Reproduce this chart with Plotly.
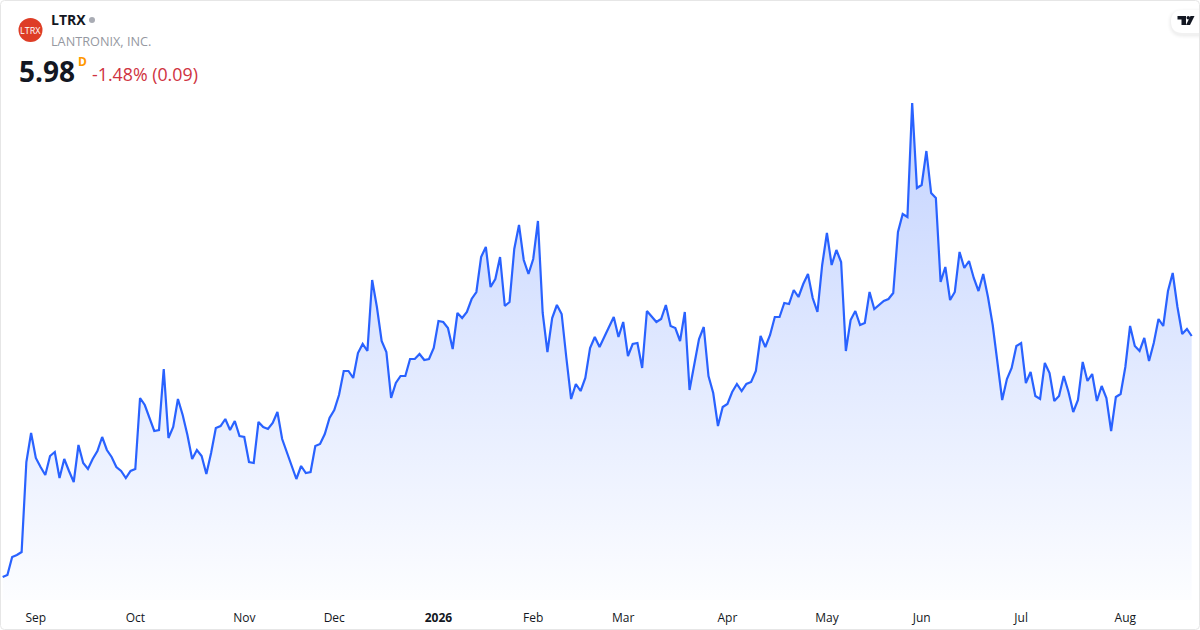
import plotly.graph_objects as go

W = 1200
H = 630
PLOT_H = 600

# no y axis in the picture: prices are scaled from the line, anchored on the last close 5.98
prices = [
    3.57, 3.59, 3.77, 3.79, 3.82, 4.72, 5.01, 4.76, 4.67, 4.59, 4.78, 4.82, 4.56, 4.75, 4.63, 4.52,
    4.89, 4.71, 4.65, 4.75, 4.83, 4.97, 4.84, 4.77, 4.67, 4.63, 4.56, 4.63, 4.65, 5.36, 5.29, 5.17,
    5.03, 5.04, 5.65, 4.96, 5.07, 5.35, 5.19, 4.99, 4.75, 4.84, 4.78, 4.60, 4.81, 5.06, 5.08, 5.15,
    5.04, 5.13, 4.98, 4.97, 4.72, 4.71, 5.12, 5.07, 5.05, 5.11, 5.22, 4.95, 4.82, 4.70, 4.55, 4.68,
    4.61, 4.62, 4.88, 4.90, 5.00, 5.16, 5.24, 5.39, 5.63, 5.63, 5.56, 5.81, 5.90, 5.83, 6.54, 6.27,
    5.93, 5.82, 5.36, 5.51, 5.58, 5.58, 5.75, 5.75, 5.80, 5.74, 5.75, 5.86, 6.13, 6.12, 6.06, 5.85,
    6.21, 6.16, 6.22, 6.35, 6.42, 6.77, 6.87, 6.47, 6.55, 6.77, 6.28, 6.32, 6.85, 7.09, 6.74, 6.60,
    6.75, 7.13, 6.21, 5.82, 6.16, 6.29, 6.20, 5.76, 5.35, 5.50, 5.43, 5.56, 5.86, 5.97, 5.87, 5.97,
    6.07, 6.17, 5.97, 6.12, 5.78, 5.90, 5.91, 5.66, 6.23, 6.18, 6.12, 6.15, 6.29, 6.08, 6.06, 5.93,
    6.22, 5.44, 5.71, 5.95, 6.07, 5.58, 5.41, 5.08, 5.27, 5.30, 5.42, 5.50, 5.43, 5.50, 5.52, 5.63,
    5.98, 5.87, 5.99, 6.17, 6.17, 6.31, 6.30, 6.44, 6.37, 6.50, 6.60, 6.36, 6.22, 6.69, 7.01, 6.69,
    6.84, 6.72, 5.83, 6.14, 6.23, 6.09, 6.11, 6.42, 6.25, 6.29, 6.33, 6.35, 6.41, 7.02, 7.20, 7.17,
    8.31, 7.46, 7.49, 7.83, 7.41, 7.36, 6.52, 6.67, 6.34, 6.42, 6.82, 6.66, 6.73, 6.56, 6.43, 6.60,
    6.37, 6.09, 5.69, 5.34, 5.55, 5.66, 5.88, 5.91, 5.51, 5.62, 5.38, 5.35, 5.71, 5.61, 5.33, 5.38,
    5.58, 5.42, 5.22, 5.34, 5.72, 5.53, 5.60, 5.33, 5.48, 5.36, 5.03, 5.37, 5.40, 5.67, 6.08, 5.88,
    5.83, 5.96, 5.73, 5.91, 6.15, 6.08, 6.43, 6.61, 6.27, 6.00, 6.05, 5.98,
]
# trading-day index of the first session of each month
tick_days = [7, 28, 51, 70, 92, 112, 131, 153, 174, 194, 215, 237]
tick_labels = ["Sep", "Oct", "Nov", "Dec", "<b>2026</b>", "Feb", "Mar", "Apr", "May", "Jun", "Jul", "Aug"]


def px(x):
    return x / W


def py(y):
    return 1 - y / PLOT_H


def path(points):
    # pixel points to a closed svg path in paper coordinates
    parts = []
    for cmd, *xy in points:
        coords = [f"{px(xy[i])},{py(xy[i + 1])}" for i in range(0, len(xy), 2)]
        parts.append(cmd + " " + " ".join(coords))
    return " ".join(parts)


def label(x, y, text, size, color, bold=False, xanchor="left", family="Open Sans"):
    fig.add_annotation(
        xref="paper", yref="paper", x=px(x), y=py(y), text=f"<b>{text}</b>" if bold else text,
        showarrow=False, xanchor=xanchor, yanchor="middle", borderpad=0,
        font=dict(family=family, size=size, color=color),
    )


fig = go.Figure()
fig.add_trace(go.Scatter(
    x=list(range(len(prices))), y=prices, mode="lines",
    line=dict(color="#2962ff", width=2.2),
    fill="tozeroy",
    fillgradient=dict(
        type="vertical", start=3.34, stop=8.31,
        colorscale=[[0, "rgba(41,98,255,0.012)"], [1, "rgba(41,98,255,0.28)"]],
    ),
    hoverinfo="skip",
))

fig.update_layout(
    width=W, height=H, margin=dict(l=0, r=0, t=0, b=H - PLOT_H),
    paper_bgcolor="white", plot_bgcolor="white", showlegend=False,
    xaxis=dict(
        range=[-0.564, 252.76], tickmode="array", tickvals=tick_days, ticktext=tick_labels,
        showgrid=False, zeroline=False, showline=False, ticks="", ticklabelstandoff=9,
        tickangle=0, tickfont=dict(family="Open Sans", size=12, color="#131722"),
    ),
    yaxis=dict(range=[3.34, 9.34], visible=False),
)

# chart frame
fig.add_shape(
    type="path", xref="paper", yref="paper", line=dict(color="#e6e6e6", width=1),
    path=path([
        ("M", 4.5, 0.5), ("L", 1195.5, 0.5), ("Q", 1199.5, 0.5, 1199.5, 4.5),
        ("L", 1199.5, 625.5), ("Q", 1199.5, 629.5, 1195.5, 629.5), ("L", 4.5, 629.5),
        ("Q", 0.5, 629.5, 0.5, 625.5), ("L", 0.5, 4.5), ("Q", 0.5, 0.5, 4.5, 0.5),
    ]) + " Z",
)

# company logo and status dot
fig.add_shape(type="circle", xref="paper", yref="paper", x0=px(18.5), x1=px(42.5), y0=py(42), y1=py(18),
              fillcolor="#de3d26", line=dict(width=0))
fig.add_shape(type="circle", xref="paper", yref="paper", x0=px(89), x1=px(95), y0=py(23), y1=py(17),
              fillcolor="#a9acb4", line=dict(width=0))

# TradingView badge: soft shadow, pill, glyph
for grow, alpha in [(4, 0.008), (3, 0.012), (2, 0.016), (1, 0.02)]:
    fig.add_shape(
        type="path", xref="paper", yref="paper", fillcolor=f"rgba(0,0,0,{alpha})", line=dict(width=0),
        path=path([
            ("M", 1199, 10 - grow + 2), ("L", 1183, 10 - grow + 2),
            ("Q", 1171 - grow, 10 - grow + 2, 1171 - grow, 22),
            ("Q", 1171 - grow, 33 + grow + 2, 1183, 33 + grow + 2), ("L", 1199, 33 + grow + 2),
        ]) + " Z",
    )
fig.add_shape(
    type="path", xref="paper", yref="paper", fillcolor="white", line=dict(width=0),
    path=path([("M", 1199, 10), ("L", 1183, 10), ("Q", 1171, 10, 1171, 21.5),
               ("Q", 1171, 33, 1183, 33), ("L", 1199, 33)]) + " Z",
)
for glyph in [
    [("M", 1177.5, 16), ("L", 1186, 16), ("L", 1186, 25), ("L", 1181.5, 25), ("L", 1181.5, 19.5), ("L", 1177.5, 19.5)],
    [("M", 1190.5, 16), ("L", 1194.5, 16), ("L", 1190, 25), ("L", 1186, 25)],
]:
    fig.add_shape(type="path", xref="paper", yref="paper", fillcolor="#131722", line=dict(width=0),
                  path=path(glyph) + " Z")
fig.add_shape(type="circle", xref="paper", yref="paper", x0=px(1186.5), x1=px(1190), y0=py(19.5), y1=py(16),
              fillcolor="#131722", line=dict(width=0))

label(30.5, 30, "LTRX", 9, "white", xanchor="center")
label(50, 20, "LTRX", 14, "#131722", bold=True)
label(50, 40.5, "LANTRONIX, INC.", 12.7, "#9598a1")
label(18, 71, "5.98", 28, "#131722", bold=True)
label(76.5, 61, "D", 12, "#ff9800", bold=True)
label(91, 74.5, "-1.48% (0.09)", 17.8, "#cf3341")

fig.write_html("out.html", config=dict(displayModeBar=False),
               post_script="document.body.style.margin='0';")
